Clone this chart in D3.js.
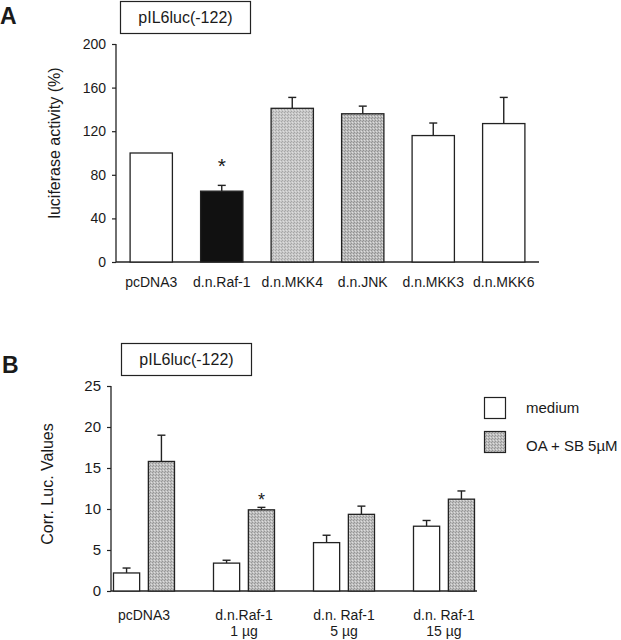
<!DOCTYPE html>
<html>
<head>
<meta charset="utf-8">
<script src="https://cdn.jsdelivr.net/npm/d3@7"></script>
<style>
	body { margin: 0; background: #fff; }
	text { font-family: "Liberation Sans", Arial, sans-serif; fill: #1a1a1a; }
</style>
</head>
<body>
<div id="figure"></div>
<script>
/***************************************************************************/
/*********************************************************** DONNEES *****/
/***************************************************************************/

// Panel A
const catsA = ["pcDNA3", "d.n.Raf-1", "d.n.MKK4", "d.n.JNK", "d.n.MKK3", "d.n.MKK6"];
const valsA = [100, 65, 141, 136, 116, 127];
const errA = [0, 5.3, 10, 7, 11.5, 24];
const fillA = ["white", "black", "light", "dark", "white", "white"];
const starA = [false, true, false, false, false, false];
const ticksA = [0, 40, 80, 120, 160, 200];

// Panel B
const groupsB = [["pcDNA3"], ["d.n.Raf-1", "1 µg"], ["d.n. Raf-1", "5 µg"], ["d.n. Raf-1", "15 µg"]];
const seriesB = ["medium", "OA + SB 5µM"];
const mediumB = [2.2, 3.4, 5.9, 7.9];
const mediumErrB = [0.6, 0.35, 0.9, 0.7];
const oaB = [15.8, 9.9, 9.35, 11.2];
const oaErrB = [3.2, 0.3, 1.0, 1.0];
const starB = [false, true, false, false];
const ticksB = [0, 5, 10, 15, 20, 25];

/***************************************************************************/
/****************************************************** SVG ET MOTIFS *****/
/***************************************************************************/

const width = 621, height = 640;

const svg = d3.select("#figure")
	.append("svg")
	.attr("width", width)
	.attr("height", height);

const defs = svg.append("defs");

// trame grise (demi-teinte) des barres
function trame(id, base, dot) {
	const p = defs.append("pattern")
		.attr("id", id)
		.attr("width", 3).attr("height", 3)
		.attr("patternUnits", "userSpaceOnUse");
	p.append("rect").attr("width", 3).attr("height", 3).attr("fill", base);
	p.append("rect").attr("x", 0).attr("y", 0).attr("width", 1).attr("height", 1).attr("fill", dot);
	p.append("rect").attr("x", 2).attr("y", 1).attr("width", 1).attr("height", 1).attr("fill", dot);
	p.append("rect").attr("x", 1).attr("y", 2).attr("width", 1).attr("height", 1).attr("fill", "#dedede");
}
trame("light", "#c8c8c8", "#a6a6a6");
trame("dark", "#bababa", "#929292");
trame("grayB", "#bdbdbd", "#969696");

function fillOf(f) {
	if (f == "white") return "#fff";
	if (f == "black") return "#111";
	return "url(#" + f + ")";
}

/***************************************************************************/
/************************************************************ PANEL A *****/
/***************************************************************************/

const xA = d3.scaleBand()
	.domain(catsA)
	.range([116, 539])
	.paddingInner(0.4)
	.paddingOuter(0.2);

const yA = d3.scaleLinear()
	.domain([0, 200])
	.range([262, 44]);

const gA = svg.append("g");

gA.append("text")
	.attr("x", 0).attr("y", 24)
	.style("font-size", "23px").style("font-weight", "bold")
	.text("A");

gA.append("rect")
	.attr("x", 120.5).attr("y", 1.5).attr("width", 130).attr("height", 32)
	.attr("fill", "none").attr("stroke", "#222").attr("stroke-width", 1.2);
gA.append("text")
	.attr("x", 185.5).attr("y", 23)
	.attr("text-anchor", "middle")
	.style("font-size", "16px")
	.text("pIL6luc(-122)");

const axA = gA.append("g")
	.attr("transform", "translate(116,0)")
	.call(d3.axisLeft(yA).tickValues(ticksA).tickSize(4).tickPadding(6));
axA.select(".domain").attr("stroke", "#222").attr("stroke-width", 1.3).attr("d", "M0," + yA(200) + "V" + yA(0));
axA.selectAll(".tick line").attr("stroke", "#222").attr("stroke-width", 1.2);
axA.selectAll(".tick text").style("font-size", "14px").style("font-family", "Liberation Sans, Arial, sans-serif").attr("fill", "#1a1a1a");

gA.append("line")
	.attr("x1", 116).attr("x2", 539)
	.attr("y1", yA(0)).attr("y2", yA(0))
	.attr("stroke", "#222").attr("stroke-width", 1.4);

gA.append("text")
	.attr("transform", "translate(60," + 143 + ") rotate(-90)")
	.attr("text-anchor", "middle")
	.style("font-size", "16px")
	.text("luciferase activity (%)");

// barres d'erreur sous les barres
gA.selectAll("line.err")
	.data(catsA.filter(function(d, i){ return errA[i] > 0; }))
	.enter()
	.append("line")
	.attr("class", "err")
	.attr("x1", function(d){ return xA(d) + xA.bandwidth()/2; })
	.attr("x2", function(d){ return xA(d) + xA.bandwidth()/2; })
	.attr("y1", function(d){ const i = catsA.indexOf(d); return yA(valsA[i]); })
	.attr("y2", function(d){ const i = catsA.indexOf(d); return yA(valsA[i] + errA[i]); })
	.attr("stroke", "#222").attr("stroke-width", 1.4);
gA.selectAll("line.cap")
	.data(catsA.filter(function(d, i){ return errA[i] > 0; }))
	.enter()
	.append("line")
	.attr("class", "cap")
	.attr("x1", function(d){ return xA(d) + xA.bandwidth()/2 - 4; })
	.attr("x2", function(d){ return xA(d) + xA.bandwidth()/2 + 4; })
	.attr("y1", function(d){ const i = catsA.indexOf(d); return yA(valsA[i] + errA[i]); })
	.attr("y2", function(d){ const i = catsA.indexOf(d); return yA(valsA[i] + errA[i]); })
	.attr("stroke", "#222").attr("stroke-width", 1.4);

gA.selectAll("rect.bar")
	.data(catsA)
	.enter()
	.append("rect")
	.attr("class", "bar")
	.attr("x", function(d){ return xA(d); })
	.attr("y", function(d, i){ return yA(valsA[i]); })
	.attr("width", xA.bandwidth())
	.attr("height", function(d, i){ return yA(0) - yA(valsA[i]); })
	.attr("fill", function(d, i){ return fillOf(fillA[i]); })
	.attr("stroke", "#222")
	.attr("stroke-width", 1.3);

gA.selectAll("text.star")
	.data(catsA.filter(function(d, i){ return starA[i]; }))
	.enter()
	.append("text")
	.attr("class", "star")
	.attr("x", function(d){ return xA(d) + xA.bandwidth()/2; })
	.attr("y", function(d){ const i = catsA.indexOf(d); return yA(valsA[i] + errA[i]) - 12; })
	.attr("text-anchor", "middle")
	.style("font-size", "21px")
	.text("*");

gA.selectAll("text.cat")
	.data(catsA)
	.enter()
	.append("text")
	.attr("class", "cat")
	.attr("x", function(d){ return xA(d) + xA.bandwidth()/2; })
	.attr("y", 287)
	.attr("text-anchor", "middle")
	.style("font-size", "14px")
	.text(function(d){ return d; });

/***************************************************************************/
/************************************************************ PANEL B *****/
/***************************************************************************/

const idxB = groupsB.map(function(d, i){ return i; });

const xB = d3.scaleBand()
	.domain(idxB)
	.range([111, 477])
	.paddingInner(0.39)
	.paddingOuter(0.025);

const xSub = d3.scaleBand()
	.domain(seriesB)
	.range([0, xB.bandwidth()])
	.paddingInner(0.25);

const yB = d3.scaleLinear()
	.domain([0, 25])
	.range([591, 386]);

const gB = svg.append("g");

gB.append("text")
	.attr("x", 2).attr("y", 373)
	.style("font-size", "23px").style("font-weight", "bold")
	.text("B");

gB.append("rect")
	.attr("x", 121.5).attr("y", 343.5).attr("width", 130).attr("height", 32)
	.attr("fill", "none").attr("stroke", "#222").attr("stroke-width", 1.2);
gB.append("text")
	.attr("x", 186.5).attr("y", 365)
	.attr("text-anchor", "middle")
	.style("font-size", "16px")
	.text("pIL6luc(-122)");

const axB = gB.append("g")
	.attr("transform", "translate(111,0)")
	.call(d3.axisLeft(yB).tickValues(ticksB).tickSize(4).tickPadding(6));
axB.select(".domain").attr("stroke", "#222").attr("stroke-width", 1.3).attr("d", "M0," + yB(25) + "V" + yB(0));
axB.selectAll(".tick line").attr("stroke", "#222").attr("stroke-width", 1.2);
axB.selectAll(".tick text").style("font-size", "15px").style("font-family", "Liberation Sans, Arial, sans-serif").attr("fill", "#1a1a1a");

gB.append("line")
	.attr("x1", 111).attr("x2", 477)
	.attr("y1", yB(0)).attr("y2", yB(0))
	.attr("stroke", "#222").attr("stroke-width", 1.4);

gB.append("text")
	.attr("transform", "translate(53," + 484 + ") rotate(-90)")
	.attr("text-anchor", "middle")
	.style("font-size", "16px")
	.text("Corr. Luc. Values");

// une ligne par barre : groupe, série, valeur, erreur
const barsB = [];
idxB.forEach(function(i){
	barsB.push({g: i, s: seriesB[0], v: mediumB[i], e: mediumErrB[i], f: "white"});
	barsB.push({g: i, s: seriesB[1], v: oaB[i], e: oaErrB[i], f: "grayB"});
});

function cx(d){ return xB(d.g) + xSub(d.s) + xSub.bandwidth()/2; }

gB.selectAll("line.err")
	.data(barsB)
	.enter()
	.append("line")
	.attr("x1", cx).attr("x2", cx)
	.attr("y1", function(d){ return yB(d.v); })
	.attr("y2", function(d){ return yB(d.v + d.e); })
	.attr("stroke", "#222").attr("stroke-width", 1.4);
gB.selectAll("line.cap")
	.data(barsB)
	.enter()
	.append("line")
	.attr("x1", function(d){ return cx(d) - 4; })
	.attr("x2", function(d){ return cx(d) + 4; })
	.attr("y1", function(d){ return yB(d.v + d.e); })
	.attr("y2", function(d){ return yB(d.v + d.e); })
	.attr("stroke", "#222").attr("stroke-width", 1.4);

gB.selectAll("rect.bar")
	.data(barsB)
	.enter()
	.append("rect")
	.attr("x", function(d){ return xB(d.g) + xSub(d.s); })
	.attr("y", function(d){ return yB(d.v); })
	.attr("width", xSub.bandwidth())
	.attr("height", function(d){ return yB(0) - yB(d.v); })
	.attr("fill", function(d){ return fillOf(d.f); })
	.attr("stroke", "#222")
	.attr("stroke-width", 1.3);

gB.selectAll("text.star")
	.data(barsB.filter(function(d){ return d.s == seriesB[1] && starB[d.g]; }))
	.enter()
	.append("text")
	.attr("x", cx)
	.attr("y", function(d){ return yB(d.v + d.e) - 1; })
	.attr("text-anchor", "middle")
	.style("font-size", "18px")
	.text("*");

const catB = gB.selectAll("text.cat")
	.data(idxB)
	.enter()
	.append("text")
	.attr("class", "cat")
	.attr("text-anchor", "middle")
	.style("font-size", "14px");
catB.selectAll("tspan")
	.data(function(i){ return groupsB[i].map(function(t){ return {g: i, t: t}; }); })
	.enter()
	.append("tspan")
	.attr("x", function(d){ return xB(d.g) + xB.bandwidth()/2; })
	.attr("y", function(d, j){ return 620 + j*16; })
	.text(function(d){ return d.t; });

// légende
const leg = gB.append("g");
leg.selectAll("rect")
	.data(seriesB)
	.enter()
	.append("rect")
	.attr("x", 484.5)
	.attr("y", function(d, i){ return 397.5 + i*34; })
	.attr("width", 21).attr("height", 21)
	.attr("fill", function(d, i){ return i == 0 ? "#fff" : "url(#grayB)"; })
	.attr("stroke", "#222").attr("stroke-width", 1.2);
leg.selectAll("text")
	.data(seriesB)
	.enter()
	.append("text")
	.attr("x", 526)
	.attr("y", function(d, i){ return 413 + i*38; })
	.style("font-size", "15px")
	.text(function(d){ return d; });
</script>
</body>
</html>
